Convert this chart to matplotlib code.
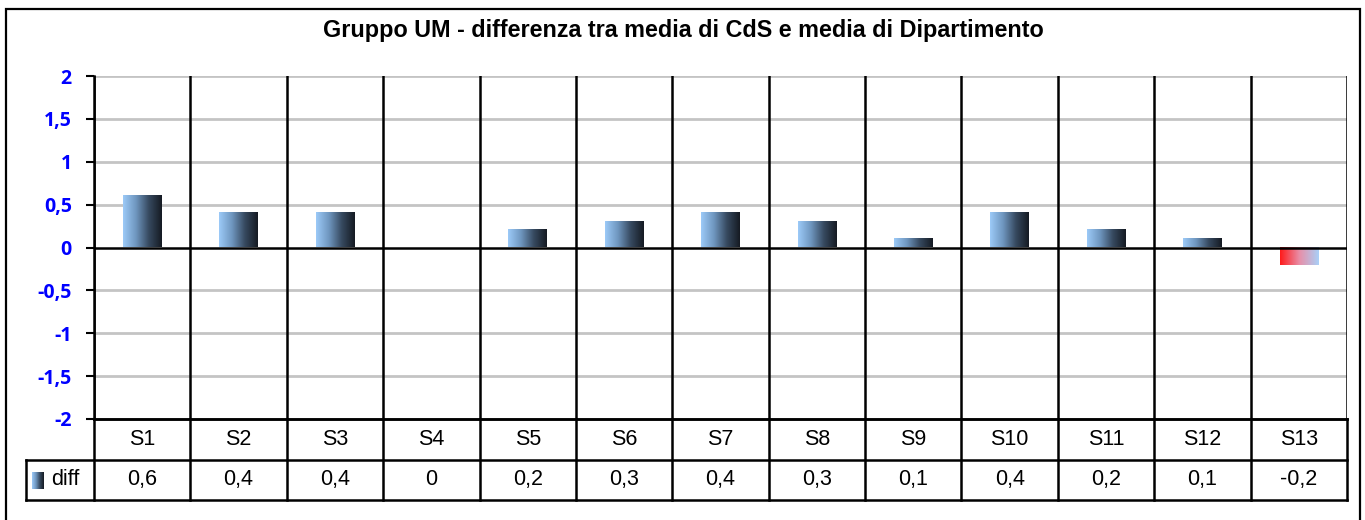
import numpy as np
import matplotlib
matplotlib.use("Agg")
import matplotlib.pyplot as plt
from matplotlib.colors import LinearSegmentedColormap
from matplotlib.patches import Rectangle

categories = ["S1", "S2", "S3", "S4", "S5", "S6", "S7", "S8", "S9", "S10", "S11", "S12", "S13"]
diff = [0.6, 0.4, 0.4, 0.0, 0.2, 0.3, 0.4, 0.3, 0.1, 0.4, 0.2, 0.1, -0.2]
value_labels = ["0,6", "0,4", "0,4", "0", "0,2", "0,3", "0,4", "0,3", "0,1", "0,4", "0,2", "0,1", "-0,2"]
yticks = [-2, -1.5, -1, -0.5, 0, 0.5, 1, 1.5, 2]
ytick_labels = ["-2", "-1,5", "-1", "-0,5", "0", "0,5", "1", "1,5", "2"]
series_name = "diff"
title = "Gruppo UM - differenza tra media di CdS e media di Dipartimento"

W, H = 1365, 520
fig = plt.figure(figsize=(W / 100, H / 100), dpi=100)

def px(x0, y0, x1, y1):
    return [x0 / W, 1 - y1 / H, (x1 - x0) / W, (y1 - y0) / H]

# outer border (bottom edge lies just below the image)
fig.add_artist(Rectangle((6 / W, 1 - 524 / H), (1360 - 6) / W, (524 - 9) / H,
                         transform=fig.transFigure, fill=False, edgecolor="black", lw=1.6,
                         clip_on=False))

fig.text(683 / W, 1 - 31 / H, title, ha="center", va="center",
         fontsize=16.8, fontweight="bold", family="Liberation Sans")

ax = fig.add_axes(px(94, 76, 1347, 419))
n = len(categories)
ax.set_xlim(-0.5, n - 0.5)
ax.set_ylim(-2, 2)

pos_cmap = LinearSegmentedColormap.from_list("pos", ["#9ccaf8", "#6f96bf", "#36495f", "#151a22"])
neg_cmap = LinearSegmentedColormap.from_list("neg", ["#ff1a1a", "#e88fa8", "#a9d0f8"])
grad = np.linspace(0, 1, 256).reshape(1, -1)
bw = 0.4
for i, v in enumerate(diff):
    if v == 0:
        continue
    cmap = pos_cmap if v > 0 else neg_cmap
    ax.imshow(grad, cmap=cmap, aspect="auto",
              extent=(i - bw / 2, i + bw / 2, min(0, v), max(0, v)), zorder=3)

for y in yticks:
    if y in (0, -2):
        continue
    ax.axhline(y, color="#c4c4c4", lw=2, zorder=1)
ax.axhline(0, color="black", lw=1.8, zorder=4)
for k in range(n + 1):
    ax.axvline(k - 0.5, color="black", lw=1.8, zorder=2)

ax.set_xticks([])
ax.set_yticks(yticks)
ax.set_yticklabels(ytick_labels, color="#0000ff", fontweight="bold", fontsize=14,
                   family="Open Sans")
ax.tick_params(axis="y", length=6, width=1.5, pad=10)
for s in ["top", "right"]:
    ax.spines[s].set_visible(False)
ax.spines["left"].set_linewidth(1.8)
ax.spines["bottom"].set_linewidth(1.8)

# data table
tx0 = 26
cw = (1347 - 94) / n
tax = fig.add_axes(px(tx0, 419, 1347, 500))
xl = -0.5 - (94 - tx0) / cw
tax.set_xlim(xl, n - 0.5)
tax.set_ylim(0, 2)
tax.axis("off")
lw = 1.8
tax.plot([-0.5, n - 0.5], [2, 2], color="black", lw=lw, clip_on=False)
tax.plot([xl, n - 0.5], [1, 1], color="black", lw=lw, clip_on=False)
tax.plot([xl, n - 0.5], [0, 0], color="black", lw=lw, clip_on=False)
tax.plot([xl, xl], [0, 1], color="black", lw=lw, clip_on=False)
for k in range(n + 1):
    tax.plot([k - 0.5, k - 0.5], [0, 2], color="black", lw=lw, clip_on=False)
fs = 15.5
for i, (c, lab) in enumerate(zip(categories, value_labels)):
    tax.text(i, 1.5, c, ha="center", va="center", fontsize=fs, family="Liberation Sans")
    tax.text(i, 0.5, lab, ha="center", va="center", fontsize=fs, family="Liberation Sans")
# legend key
kx0 = xl + (32 - tx0) / cw
kx1 = xl + (44 - tx0) / cw
tax.imshow(grad, cmap=pos_cmap, aspect="auto", extent=(kx0, kx1, 0.27, 0.67), zorder=3)
tax.text(xl + (51 - tx0) / cw, 0.5, series_name, ha="left", va="center",
         fontsize=fs, family="Liberation Sans")
tax.set_xlim(xl, n - 0.5)
tax.set_ylim(0, 2)

fig.savefig("out.png", dpi=100)
